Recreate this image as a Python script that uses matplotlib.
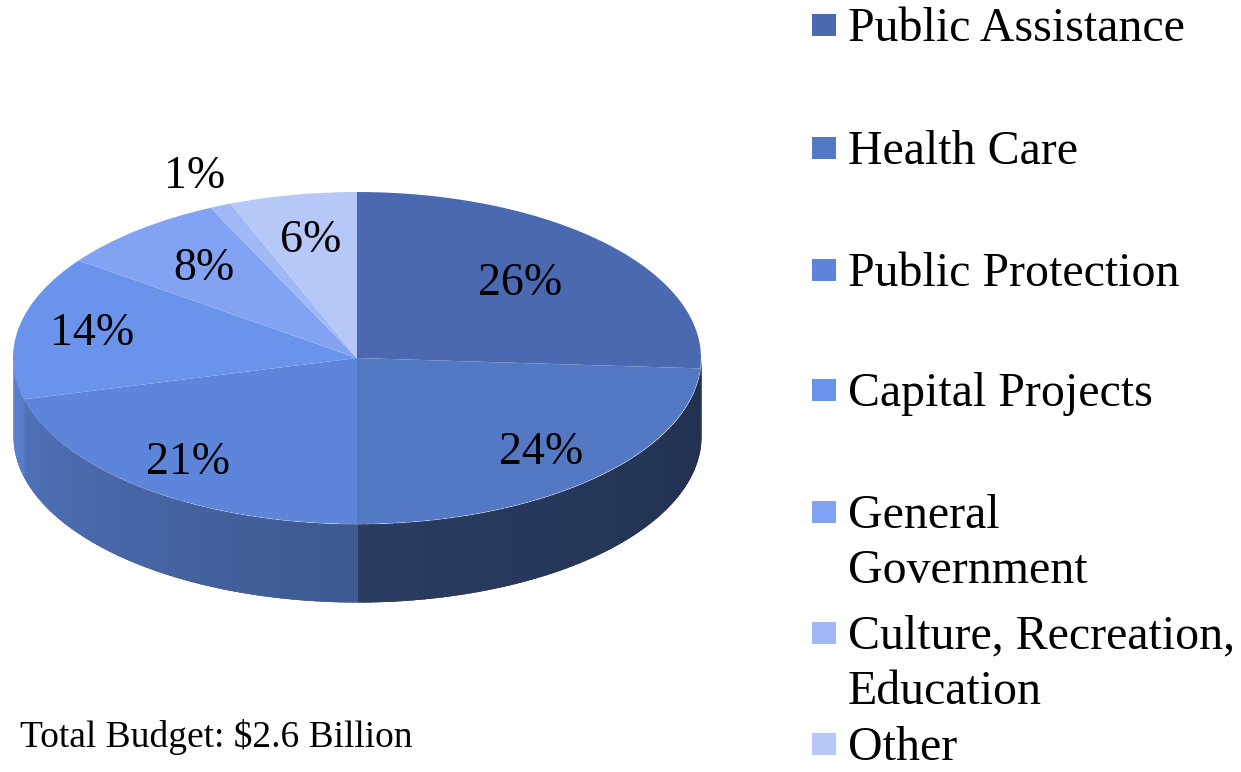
import numpy as np
import matplotlib
matplotlib.use("Agg")
import matplotlib.pyplot as plt
from matplotlib.patches import Rectangle
from matplotlib.colors import to_rgb

# ---------------- data ----------------
categories = ["Public Assistance", "Health Care", "Public Protection",
              "Capital Projects", "General Government",
              "Culture, Recreation, Education", "Other"]
legend_labels = ["Public Assistance", "Health Care", "Public Protection",
                 "Capital Projects", "General\nGovernment",
                 "Culture, Recreation,\nEducation", "Other"]
shares = [26, 24, 21, 14, 8, 1, 6]
colors = ["#4A69B0", "#5378C4", "#5D86DA", "#6A93EC", "#82A3F4",
          "#A0B8F6", "#B6C8F8"]
note = "Total Budget: $2.6 Billion"

# label radial distance (style only)
label_r = [0.65, 0.78, 0.80, 0.785, 0.70, 1.19, 0.72]

W, H = 1241, 772
fig = plt.figure(figsize=(W / 100, H / 100), dpi=100)
fig.patch.set_facecolor("white")
SERIF = ["Liberation Serif", "DejaVu Serif"]

# pie geometry in pixels
cx, cy, rx, ry, depth = 357, 358, 344, 166, 78
d = depth / ry
ax = fig.add_axes([(cx - rx) / W, (H - (cy + ry + depth)) / H,
                   2 * rx / W, (2 * ry + depth) / H])
wedges, _ = ax.pie(shares, colors=colors, startangle=90, counterclock=False,
                   radius=1, center=(0, 0),
                   wedgeprops=dict(linewidth=0, zorder=3))
ax.set_aspect("auto")
ax.set_xlim(-1, 1)
ax.set_ylim(-1 - d, 1)
ax.axis("off")


def shade(tm):
    if tm < -90:
        return 0.88 - 0.22 * (tm + 180) / 90
    return 0.50 - 0.10 * (tm + 90) / 90


# side walls (front half, angles -180..0)
total = float(sum(shares))
cum = np.cumsum([0] + shares) / total
for i, col in enumerate(colors):
    a_hi = 90 - 360 * cum[i]
    a_lo = 90 - 360 * cum[i + 1]
    base = np.array(to_rgb(col))
    for shift in (0, 360, -360):
        lo, hi = max(a_lo + shift, -180), min(a_hi + shift, 0)
        if hi <= lo:
            continue
        # underlay with the mean shade, so no seams show between strips
        tt = np.radians(np.linspace(lo, hi, 200))
        ax.fill_between(np.cos(tt), np.sin(tt), np.sin(tt) - d,
                        color=np.clip(base * shade(0.5 * (lo + hi)), 0, 1),
                        linewidth=0, zorder=1.5)
        n = max(2, int((hi - lo) / 1.0))
        edges = np.linspace(lo, hi, n + 1)
        for k in range(n):
            t0, t1 = edges[k], edges[k + 1]
            tm = 0.5 * (t0 + t1)
            tt = np.radians(np.linspace(t0, min(t1 + 0.4, hi), 4))
            ax.fill_between(np.cos(tt), np.sin(tt), np.sin(tt) - d,
                            color=np.clip(base * shade(tm), 0, 1),
                            linewidth=0, zorder=2)

# percentage labels
for i, w in enumerate(wedges):
    mid = np.radians(0.5 * (w.theta1 + w.theta2))
    r = label_r[i]
    ax.text(r * np.cos(mid), r * np.sin(mid), f"{shares[i]}%",
            ha="center", va="center", fontsize=33, family=SERIF,
            color="black", zorder=5)

# legend (manual, to follow the reference spacing)
row_mid = [25, 148, 270, 390, 512, 633, 744]
line_gap = 55
fs_leg = 34.5
cap = fs_leg * 100 / 72 * 0.662
for lab, col, ym in zip(legend_labels, colors, row_mid):
    fig.patches.append(Rectangle((812 / W, (H - ym - 11) / H), 24 / W, 22 / H,
                                 transform=fig.transFigure, color=col,
                                 linewidth=0))
    for j, line in enumerate(lab.split("\n")):
        yb = ym + j * line_gap + cap / 2
        fig.text(848 / W, (H - yb) / H, line, ha="left", va="baseline",
                 fontsize=fs_leg, family=SERIF, color="black")

fig.text(20 / W, (H - 747) / H, note, ha="left", va="baseline",
         fontsize=27, family=SERIF, color="black")

fig.savefig("out.png", dpi=100, facecolor="white")
